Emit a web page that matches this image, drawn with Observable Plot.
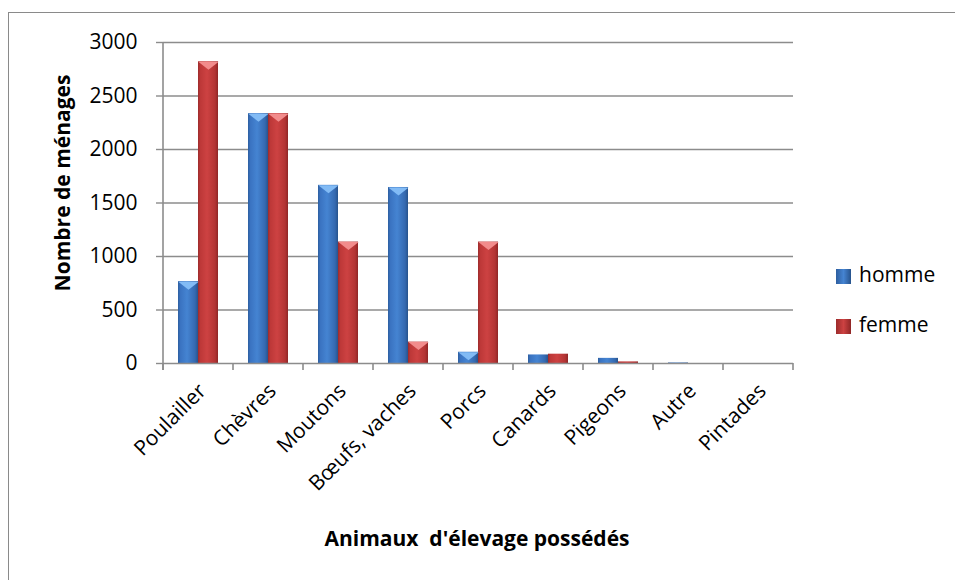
<!DOCTYPE html>
<html>
<head>
<meta charset="utf-8">
<script src="https://cdn.jsdelivr.net/npm/d3@7"></script>
<script src="https://cdn.jsdelivr.net/npm/@observablehq/plot@0.6"></script>
<style>
  html, body { margin: 0; padding: 0; background: #fff; }
  #wrap { position: relative; width: 955px; height: 580px; overflow: hidden; font-family: "Open Sans", sans-serif; color: #000; }
  #wrap svg { position: absolute; left: 0; top: 0; }
  .frame { position: absolute; left: 8px; top: 12px; width: 1000px; height: 1000px; border-left: 1.5px solid #8a8a8a; border-top: 1.5px solid #8a8a8a; }
  .ytitle { position: absolute; left: 62px; top: 183px; transform: translate(-50%, -50%) rotate(-90deg); font-weight: bold; font-size: 21px; line-height: 1; white-space: nowrap; }
  .xtitle { position: absolute; left: 477px; top: 528px; transform: translateX(-50%); font-weight: bold; font-size: 21px; line-height: 1; white-space: pre; }
  .leg { position: absolute; left: 836px; font-size: 21px; line-height: 1; white-space: nowrap; }
  .leg span.sw { position: absolute; left: 0; width: 15px; height: 15px; }
  .leg span.tx { position: absolute; left: 23px; top: 0; }
</style>
</head>
<body>
<div id="wrap"></div>
<script>
// ---- data ----
const categories = ["Poulailler", "Chèvres", "Moutons", "Bœufs, vaches", "Porcs", "Canards", "Pigeons", "Autre", "Pintades"];
const series = ["homme", "femme"];
const homme = [765, 2335, 1665, 1645, 105, 80, 48, 5, 0];
const femme = [2820, 2335, 1135, 200, 1135, 87, 15, 0, 0];
const yTicks = [0, 500, 1000, 1500, 2000, 2500, 3000];
const xTitle = "Animaux  d'élevage possédés";
const yTitle = "Nombre de ménages";

// ---- styles ----
const gridColor = "#8c8c8c";
const fills = { homme: "url(#gH)", femme: "url(#gF)" };
const bevels = { homme: "#82bbf5", femme: "#f28c8c" };

const rows = categories.flatMap((c, i) => [
  { cat: c, sex: "homme", value: homme[i] },
  { cat: c, sex: "femme", value: femme[i] }
]);

const bevelSymbol = {
  draw(context) {
    context.moveTo(-10.2, 0);
    context.lineTo(10.2, 0);
    context.lineTo(0, 8);
    context.closePath();
  }
};

const chart = Plot.plot({
  width: 955,
  height: 580,
  marginLeft: 161,
  marginRight: 160,
  marginTop: 42,
  marginBottom: 217,
  style: { fontFamily: "Open Sans, sans-serif", fontSize: "21px", color: "#000", background: "transparent", overflow: "visible" },
  fx: { domain: categories, padding: 0, label: null },
  x: { domain: series, paddingInner: 0, paddingOuter: 0.72, axis: null },
  y: { domain: [0, 3000], label: null },
  marks: [
    Plot.gridY(yTicks.filter(d => d > 0), { stroke: gridColor, strokeOpacity: 1, strokeWidth: 1.4 }),
    Plot.axisY({ ticks: yTicks, tickSize: 7, tickPadding: 19, stroke: gridColor, strokeWidth: 1.4, tickFormat: d3.format("d"), label: null, fontSize: 21 }),
    ...series.map(s => Plot.barY(rows.filter(d => d.sex === s), { fx: "cat", x: "sex", y: "value", fill: fills[s] })),
    ...series.map(s => Plot.dot(rows.filter(d => d.sex === s && d.value >= 100), { fx: "cat", x: "sex", y: "value", symbol: bevelSymbol, r: 1, fill: bevels[s], stroke: "none" })),
    Plot.ruleY([0], { stroke: gridColor, strokeWidth: 1.6 }),
    Plot.axisFx({ anchor: "bottom", tickRotate: -45, tickSize: 0, tickPadding: 24, dx: 4, label: null, fontSize: 21 })
  ]
});

// gradients + Excel-like axis line and boundary ticks
const svg = d3.select(chart);
const defs = svg.insert("defs", ":first-child");
function grad(id, stops) {
  const g = defs.append("linearGradient").attr("id", id).attr("x1", "0").attr("x2", "1").attr("y1", "0").attr("y2", "0");
  stops.forEach(([o, c]) => g.append("stop").attr("offset", o).attr("stop-color", c));
}
grad("gH", [[0, "#2d5e9f"], [0.12, "#3a73c1"], [0.45, "#4584d2"], [0.85, "#3569b0"], [1, "#27538c"]]);
grad("gF", [[0, "#9c2b2b"], [0.12, "#bd3838"], [0.45, "#cd4242"], [0.85, "#b33434"], [1, "#8f2626"]]);

const fx = chart.scale("fx");
const y = chart.scale("y");
const y0 = y.apply(0), yTop = y.apply(3000);
const bw = fx.bandwidth;
const bounds = categories.map(c => fx.apply(c)).concat([fx.apply(categories[categories.length - 1]) + bw]);
const g = svg.append("g").attr("stroke", gridColor).attr("stroke-width", 1.6);
g.append("line").attr("x1", bounds[0]).attr("x2", bounds[0]).attr("y1", yTop).attr("y2", y0 + 7);
bounds.forEach(b => g.append("line").attr("x1", b).attr("x2", b).attr("y1", y0).attr("y2", y0 + 7));

const wrap = document.getElementById("wrap");
wrap.innerHTML = `<div class="frame"></div>`;
wrap.appendChild(chart);
const yt = document.createElement("div"); yt.className = "ytitle"; yt.textContent = yTitle; wrap.appendChild(yt);
const xt = document.createElement("div"); xt.className = "xtitle"; xt.textContent = xTitle; wrap.appendChild(xt);
const legTops = [264, 314];
const swBg = {
  homme: "linear-gradient(to right, #2d5e9f, #4584d2 50%, #27538c)",
  femme: "linear-gradient(to right, #9c2b2b, #cd4242 50%, #8f2626)"
};
series.forEach((s, i) => {
  const d = document.createElement("div");
  d.className = "leg";
  d.style.top = legTops[i] + "px";
  d.innerHTML = `<span class="sw" style="top:5px;background:${swBg[s]}"></span><span class="tx">${s}</span>`;
  wrap.appendChild(d);
});
</script>
</body>
</html>
